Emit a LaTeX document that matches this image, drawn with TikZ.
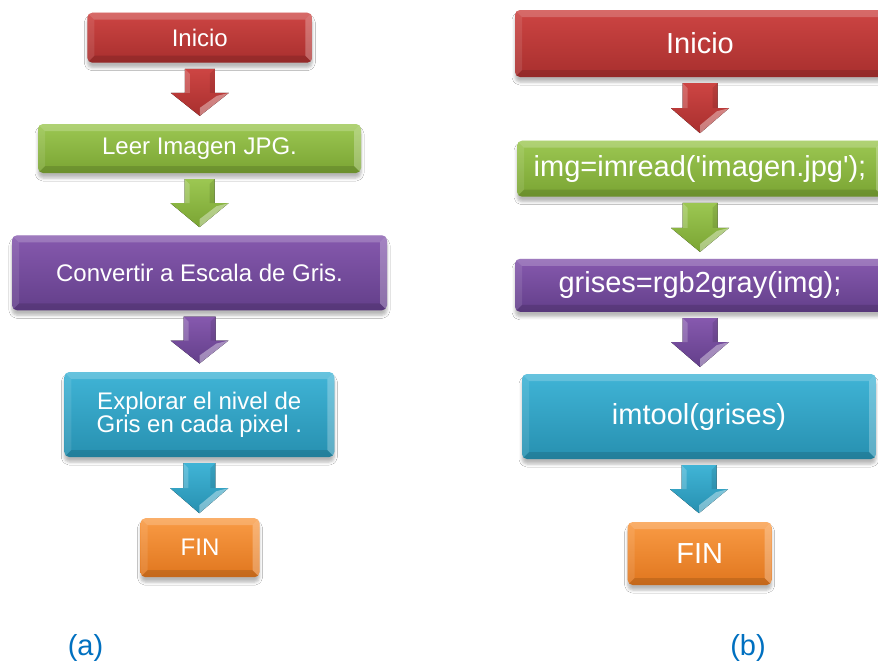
\documentclass[tikz,border=0pt]{standalone}
\usepackage{fontspec}
\setmainfont{Liberation Sans}[Ligatures=TeXOff]
\usetikzlibrary{calc,shadows.blur}

% face colours: A = upper tone, B = lower tone
\definecolor{rojoA}{HTML}{CD4543}\definecolor{rojoB}{HTML}{A82F2E}
\definecolor{verdeA}{HTML}{9CC752}\definecolor{verdeB}{HTML}{7AA433}
\definecolor{moradoA}{HTML}{8659AE}\definecolor{moradoB}{HTML}{633F8A}
\definecolor{cianA}{HTML}{40B4D6}\definecolor{cianB}{HTML}{2790B0}
\definecolor{naranjaA}{HTML}{F99B45}\definecolor{naranjaB}{HTML}{E0761E}
\definecolor{etiqueta}{HTML}{0070C0}

\newcommand\bb{path picture bounding box}
\newcommand\bv{7pt}

\tikzset{
  flowbox/.style={
    rectangle, rounded corners=5pt, inner sep=0pt, text=white, align=center,
    top color=#1A, bottom color=#1B,
    blur shadow={shadow xshift=0pt, shadow yshift=-5pt,
                 shadow blur radius=3pt, shadow opacity=28},
    path picture={
      \begin{scope}[sharp corners]
      % upper bevel
      \fill[white,opacity=.20] (\bb.north west) -- (\bb.north east)
        -- ([xshift=-\bv,yshift=-\bv]\bb.north east)
        -- ([xshift=\bv,yshift=-\bv]\bb.north west) -- cycle;
      % lower bevel
      \fill[black,opacity=.12] (\bb.south west) -- (\bb.south east)
        -- ([xshift=-\bv,yshift=\bv]\bb.south east)
        -- ([xshift=\bv,yshift=\bv]\bb.south west) -- cycle;
      % left bevel
      \fill[white,opacity=.10] (\bb.north west) -- (\bb.south west)
        -- ([xshift=\bv,yshift=\bv]\bb.south west)
        -- ([xshift=\bv,yshift=-\bv]\bb.north west) -- cycle;
      % right bevel with gloss
      \fill[white,opacity=.26] (\bb.north east) -- (\bb.south east)
        -- ([xshift=-\bv,yshift=\bv]\bb.south east)
        -- ([xshift=-\bv,yshift=-\bv]\bb.north east) -- cycle;
      \end{scope}
    }
  },
  leftfont/.style={font=\fontsize{24}{21.5}\selectfont},
  rightfont/.style={font=\fontsize{29}{30}\selectfont},
  sublabel/.style={text=etiqueta, font=\fontsize{29}{30}\selectfont, anchor=base},
}

% block arrow hanging under node #1 and pointing at node #2
% #3 colour, #4 stem half width, #5 head half width, #6 stem length, #7 total length
\newcommand\flecha[7]{%
  \coordinate (#1-#2-a) at ([yshift=-6pt]#1.south);
  \coordinate (#1-#2-b) at ([yshift=-#7]#1-#2-a);
  \fill[top color=#3A, bottom color=#3B]
    ([xshift=-#4]#1-#2-a) -- ([xshift=#4]#1-#2-a)
    -- ([xshift=#4,yshift=-#6]#1-#2-a) -- ([xshift=#5,yshift=-#6]#1-#2-a)
    -- (#1-#2-b) -- ([xshift=-#5,yshift=-#6]#1-#2-a)
    -- ([xshift=-#4,yshift=-#6]#1-#2-a) -- cycle;
  % light stripe on the left of the stem
  \fill[white,opacity=.20]
    ([xshift=-#4]#1-#2-a) -- ([xshift={-#4+5pt},yshift=-5pt]#1-#2-a)
    -- ([xshift={-#4+5pt},yshift=-#6]#1-#2-a) -- ([xshift=-#4,yshift=-#6]#1-#2-a) -- cycle;
  % dark stripe on the right of the stem
  \fill[black,opacity=.10]
    ([xshift=#4]#1-#2-a) -- ([xshift={#4-5pt},yshift=-5pt]#1-#2-a)
    -- ([xshift={#4-5pt},yshift=-#6]#1-#2-a) -- ([xshift=#4,yshift=-#6]#1-#2-a) -- cycle;
  % glossy facet on the lower right of the head
  \fill[white,opacity=.38]
    ([xshift=#5,yshift=-#6]#1-#2-a) -- (#1-#2-b)
    -- ([yshift=8pt]#1-#2-b) -- ([xshift={#5-12pt},yshift={-#6-3pt}]#1-#2-a) -- cycle;
}

\begin{document}
\begin{tikzpicture}[x=1pt,y=-1pt]
\useasboundingbox (0,0) rectangle (878,664);
\clip (0,0) rectangle (878,664);
\fill[white] (0,0) rectangle (878,664);

% left chart
\node[flowbox=rojo,    leftfont, minimum width=225pt, minimum height=50pt] (l1) at (199.8,37.7) {Inicio};
\node[flowbox=verde,   leftfont, minimum width=323pt, minimum height=49pt] (l2) at (199.5,148.5) {Leer Imagen JPG.};
\node[flowbox=morado,  leftfont, minimum width=375pt, minimum height=75pt] (l3) at (199.5,272.8) {Convertir a Escala de Gris.};
\node[flowbox=cian,    leftfont, minimum width=270pt, minimum height=85pt] (l4) at (199.3,414.5) {Explorar el nivel de\\Gris en cada pixel .};
\node[flowbox=naranja, leftfont, minimum width=119pt, minimum height=59pt] (l5) at (200,547.7) {FIN};

\flecha{l1}{l2}{rojo}{15pt}{29pt}{24pt}{47pt}
\flecha{l2}{l3}{verde}{15pt}{29pt}{24pt}{48pt}
\flecha{l3}{l4}{morado}{16pt}{29pt}{24pt}{47pt}
\flecha{l4}{l5}{cian}{16pt}{29pt}{25pt}{50pt}

% right chart
\node[flowbox=rojo,    rightfont, minimum width=370pt, minimum height=67pt] (r1) at (700,43.5) {Inicio};
\node[flowbox=verde,   rightfont, minimum width=366pt, minimum height=56pt] (r2) at (700,168.7) {img=imread('imagen.jpg');};
\node[flowbox=morado,  rightfont, minimum width=370pt, minimum height=53pt] (r3) at (700,285.3) {grises=rgb2gray(img);};
\node[flowbox=cian,    rightfont, minimum width=354pt, minimum height=85pt] (r4) at (699,416.5) {imtool(grises)};
\node[flowbox=naranja, rightfont, minimum width=144pt, minimum height=63pt] (r5) at (699.7,553.5) {FIN};

\flecha{r1}{r2}{rojo}{17.5pt}{29pt}{25pt}{50pt}
\flecha{r2}{r3}{verde}{17.5pt}{29pt}{25pt}{49pt}
\flecha{r3}{r4}{morado}{17.5pt}{29pt}{24pt}{49pt}
\flecha{r4}{r5}{cian}{17.5pt}{29pt}{24pt}{48pt}

% sub-figure labels
\node[sublabel] (la) at (85.5,655) {(a)};
\node[sublabel] (lb) at (748,655) {(b)};
\end{tikzpicture}
\end{document}
